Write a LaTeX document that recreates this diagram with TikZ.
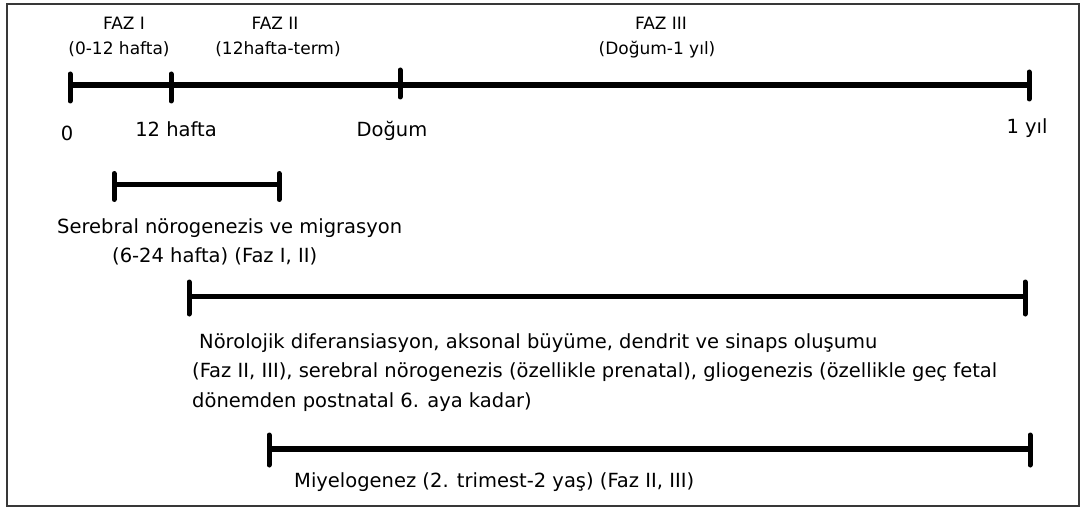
\documentclass[tikz,border=0pt]{standalone}
\usepackage{fontspec}
\setmainfont{DejaVu Sans}
\begin{document}
\begin{tikzpicture}[x=1pt,y=-1pt,
  bar/.style={line width=5.5pt},
  tickmark/.style={line width=5pt, line cap=round},
  lbl/.style={inner sep=0pt, font=\fontsize{19.5}{28}\selectfont},
  hdr/.style={inner sep=0pt, font=\fontsize{17}{25}\selectfont},
]
\useasboundingbox (0,0) rectangle (1081,508);
% outer frame
\draw[line width=2.2pt, black!78] (7,4) rectangle (1079,506);

% phase headings
\node[hdr, anchor=base] (faz1) at (124,30) {FAZ I};
\node[hdr, anchor=base] (faz1r) at (119,55) {(0-12 hafta)};
\node[hdr, anchor=base] (faz2) at (275,30) {FAZ II};
\node[hdr, anchor=base] (faz2r) at (278,55) {(12hafta-term)};
\node[hdr, anchor=base] (faz3) at (661,30) {FAZ III};
\node[hdr, anchor=base] (faz3r) at (657,55) {(Doğum-1 yıl)};

% main time axis
\coordinate (t0) at (70,85);
\coordinate (t12) at (171,85);
\coordinate (tb) at (400,85);
\coordinate (t1) at (1029,85);
\draw[bar] (t0) -- (t1);
\draw[tickmark] (t0) ++(0,-11) -- ++(0,27);
\draw[tickmark] (t12) ++(0,-11) -- ++(0,27);
\draw[tickmark] (tb) ++(0,-15) -- ++(0,27);
\draw[tickmark] (t1) ++(0,-13) -- ++(0,27);

\node[lbl, anchor=base] (l0) at (67,140) {0};
\node[lbl, anchor=base] (l12) at (176,136) {12 hafta};
\node[lbl, anchor=base] (lb) at (392,136) {Doğum};
\node[lbl, anchor=base] (l1) at (1027,133) {1 yıl};

% neurogenesis and migration
\coordinate (a0) at (114,184.5);
\coordinate (a1) at (279,184.5);
\draw[bar] (a0) -- (a1);
\draw[tickmark] (a0) ++(0,-11) -- ++(0,26);
\draw[tickmark] (a1) ++(0,-11) -- ++(0,26);
\node[lbl, anchor=base west] (sn1) at (57,233) {Serebral nörogenezis ve migrasyon};
\node[lbl, anchor=base west] (sn2) at (112,262) {(6-24 hafta) (Faz I, II)};

% differentiation
\coordinate (b0) at (189,296.5);
\coordinate (b1) at (1025,296.5);
\draw[bar] (b0) -- (b1);
\draw[tickmark] (b0) ++(0,-14.5) -- ++(0,32);
\draw[tickmark] (b1) ++(0,-14.5) -- ++(0,32);
\node[lbl, anchor=base west] (df1) at (199,348) {Nörolojik diferansiasyon, aksonal büyüme, dendrit ve sinaps oluşumu};
\node[lbl, anchor=base west] (df2) at (192,377.5) {(Faz II, III), serebral nörogenezis (özellikle prenatal), gliogenezis (özellikle geç fetal};
\node[lbl, anchor=base west] (df3) at (192,407) {dönemden postnatal 6. aya kadar)};

% myelination
\coordinate (c0) at (269,449);
\coordinate (c1) at (1030,449);
\draw[bar] (c0) -- (c1);
\draw[tickmark] (c0) ++(0,-14) -- ++(0,30);
\draw[tickmark] (c1) ++(0,-14) -- ++(0,30);
\node[lbl, anchor=base west] (my) at (294,487) {Miyelogenez (2. trimest-2 yaş) (Faz II, III)};
\end{tikzpicture}
\end{document}
